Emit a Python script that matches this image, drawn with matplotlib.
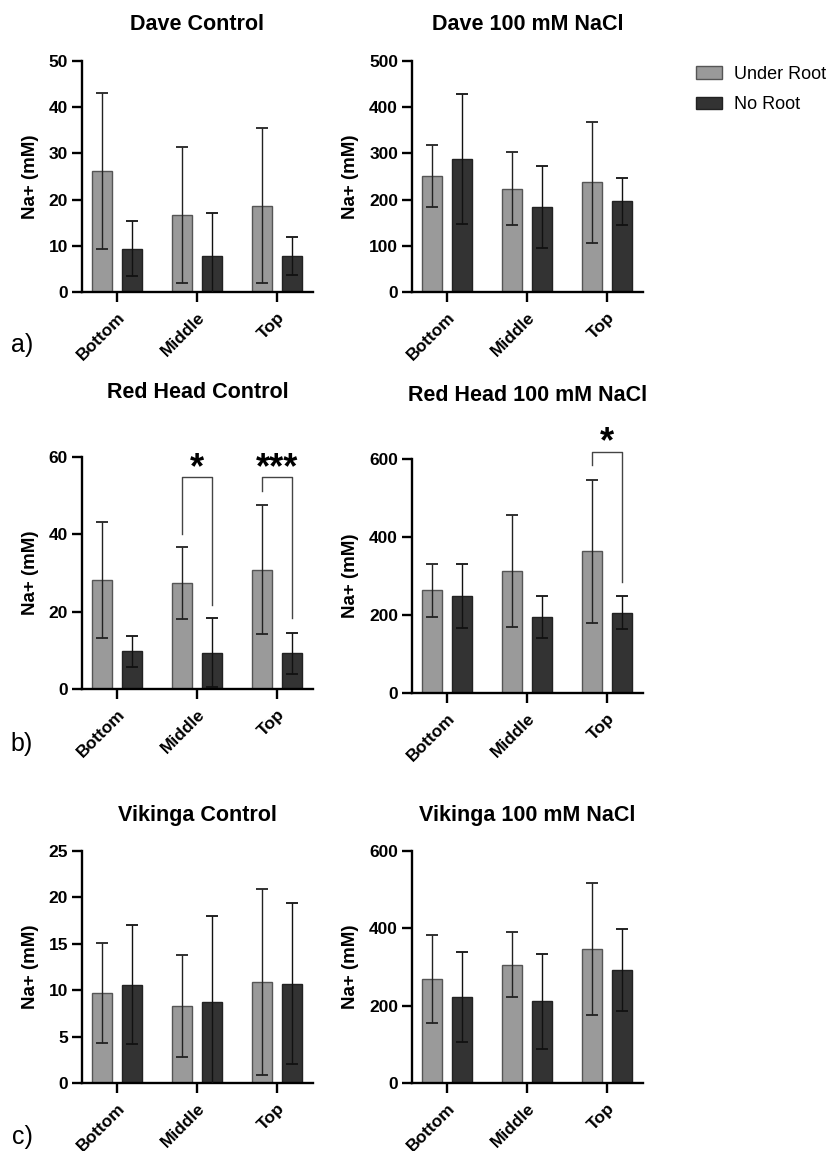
import numpy as np
import matplotlib
matplotlib.use("Agg")
import matplotlib.pyplot as plt
from matplotlib.patches import Patch

plt.rcParams['font.family'] = ['Liberation Sans', 'DejaVu Sans']

positions = ["Bottom", "Middle", "Top"]
legend_labels = ["Under Root", "No Root"]

# moyennes et écarts
dave_ctrl_under = [26.1, 16.7, 18.7]
dave_ctrl_under_err = [16.9, 14.7, 16.8]
dave_ctrl_no = [9.4, 7.7, 7.8]
dave_ctrl_no_err = [5.9, 9.3, 4.1]

dave_nacl_under = [251, 224, 238]
dave_nacl_under_err = [68, 79, 131]
dave_nacl_no = [288, 184, 196]
dave_nacl_no_err = [141, 89, 51]

red_ctrl_under = [28.1, 27.4, 30.9]
red_ctrl_under_err = [15.0, 9.2, 16.8]
red_ctrl_no = [9.7, 9.4, 9.2]
red_ctrl_no_err = [4.1, 9.0, 5.3]

red_nacl_under = [264, 313, 363]
red_nacl_under_err = [68, 143, 184]
red_nacl_no = [249, 195, 206]
red_nacl_no_err = [82, 55, 43]

vik_ctrl_under = [9.72, 8.32, 10.87]
vik_ctrl_under_err = [5.4, 5.5, 10.05]
vik_ctrl_no = [10.58, 8.75, 10.72]
vik_ctrl_no_err = [6.4, 9.2, 8.65]

vik_nacl_under = [268, 306, 347]
vik_nacl_under_err = [114, 84, 170]
vik_nacl_no = [223, 211, 292]
vik_nacl_no_err = [117, 122, 105]

# crochets de significativité : (groupe, hauteur, pied gauche, pied droit, texte)
red_ctrl_signif = [(1, 54.8, 40.1, 21.7, "*"), (2, 54.8, 51.2, 18.3, "***")]
red_nacl_signif = [(2, 618, 584, 285, "*")]

couleur_under = "#9a9a9a"
couleur_no = "#333333"

W, H = 833, 1151
fig = plt.figure(figsize=(W / 100, H / 100), dpi=100)


def axe_pixels(x0, x1, ytop, ybot):
    return fig.add_axes([x0 / W, 1 - ybot / H, (x1 - x0) / W, (ybot - ytop) / H])


def tracer(ax, under, under_err, no, no_err, ymax, ystep, titre, ytitre, xlabel_ylab):
    x = np.arange(len(positions))
    largeur = 0.25
    dec = 0.1875
    ax.bar(x - dec, under, largeur, color=couleur_under, edgecolor="#555555", linewidth=1, zorder=2)
    ax.bar(x + dec, no, largeur, color=couleur_no, edgecolor="#222222", linewidth=1, zorder=2)
    ax.errorbar(x - dec, under, yerr=under_err, fmt="none", ecolor="#222222",
                elinewidth=1, capsize=4.2, capthick=1.3, zorder=3)
    ax.errorbar(x + dec, no, yerr=no_err, fmt="none", ecolor="#111111",
                elinewidth=1, capsize=4.2, capthick=1.3, zorder=3)
    ax.set_xlim(-0.4375, 2.45)
    ax.set_ylim(0, ymax)
    ax.set_yticks(np.arange(0, ymax + 0.001, ystep))
    ax.set_xticks(x)
    ax.set_xticklabels(positions, rotation=45, ha="right", rotation_mode="anchor",
                       fontsize=12.5, fontweight="bold")
    for lab in ax.get_yticklabels():
        lab.set_fontweight("bold")
        lab.set_fontsize(12.5)
    ax.spines["top"].set_visible(False)
    ax.spines["right"].set_visible(False)
    ax.spines["left"].set_linewidth(1.7)
    ax.spines["bottom"].set_linewidth(1.7)
    ax.tick_params(axis="both", width=1.7, length=7, pad=3)
    ax.tick_params(axis="x", pad=6)
    ax.set_ylabel("Na+ (mM)", fontsize=13.5, fontweight="bold")
    ax.yaxis.set_label_coords(xlabel_ylab, 0.5)
    bb = ax.get_position()
    fig.text(bb.x0 + bb.width / 2, 1 - ytitre / H, titre, ha="center", va="center",
             fontsize=15.5, fontweight="bold")


def crochets(ax, signifs, dy):
    dec = 0.1875
    for g, haut, pied_g, pied_d, txt in signifs:
        ax.plot([g - dec, g - dec, g + dec, g + dec], [pied_g, haut, haut, pied_d],
                color="#444444", linewidth=1, clip_on=False, zorder=4)
        ax.text(g, haut + dy, txt, ha="center", va="center", fontsize=26,
                fontweight="bold", clip_on=False)


ax1 = axe_pixels(82, 313, 61, 292)
tracer(ax1, dave_ctrl_under, dave_ctrl_under_err, dave_ctrl_no, dave_ctrl_no_err,
       50, 10, "Dave Control", 25, -0.186)
ax2 = axe_pixels(412, 643, 61, 292)
tracer(ax2, dave_nacl_under, dave_nacl_under_err, dave_nacl_no, dave_nacl_no_err,
       500, 100, "Dave 100 mM NaCl", 25, -0.229)

ax3 = axe_pixels(82, 313, 457, 689)
tracer(ax3, red_ctrl_under, red_ctrl_under_err, red_ctrl_no, red_ctrl_no_err,
       60, 20, "Red Head Control", 393, -0.186)
crochets(ax3, red_ctrl_signif, 2.2)
ax4 = axe_pixels(412, 643, 459, 693)
tracer(ax4, red_nacl_under, red_nacl_under_err, red_nacl_no, red_nacl_no_err,
       600, 200, "Red Head 100 mM NaCl", 396, -0.229)
crochets(ax4, red_nacl_signif, 24)

ax5 = axe_pixels(82, 313, 851, 1083)
tracer(ax5, vik_ctrl_under, vik_ctrl_under_err, vik_ctrl_no, vik_ctrl_no_err,
       25, 5, "Vikinga Control", 815, -0.186)
ax6 = axe_pixels(412, 643, 851, 1083)
tracer(ax6, vik_nacl_under, vik_nacl_under_err, vik_nacl_no, vik_nacl_no_err,
       600, 200, "Vikinga 100 mM NaCl", 815, -0.229)

# lettres des panneaux
for lettre, yp in [("a)", 345), ("b)", 744), ("c)", 1137)]:
    fig.text(22 / W, 1 - yp / H, lettre, ha="center", va="center", fontsize=18)

handles = [Patch(facecolor=couleur_under, edgecolor="#555555", linewidth=1),
           Patch(facecolor=couleur_no, edgecolor="#222222", linewidth=1)]
fig.legend(handles, legend_labels, loc="upper left", bbox_to_anchor=(692 / W, 1 - 62 / H),
           frameon=False, fontsize=13, handlelength=1.45, handleheight=0.7,
           handletextpad=0.7, labelspacing=0.75, borderaxespad=0, borderpad=0.2)

fig.savefig("out.png", dpi=100)
